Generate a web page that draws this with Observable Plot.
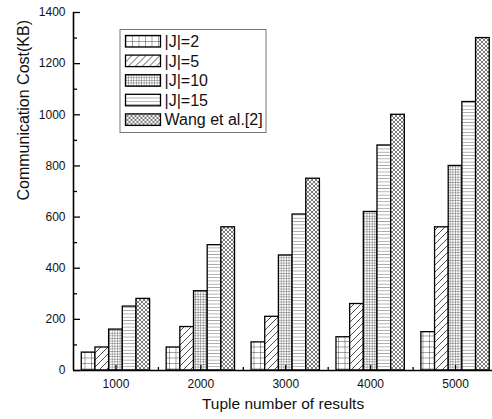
<!DOCTYPE html>
<html><head><meta charset="utf-8">
<script src="https://cdn.jsdelivr.net/npm/d3@7"></script>
<script src="https://cdn.jsdelivr.net/npm/@observablehq/plot@0.6"></script>
<style>
body{margin:0;background:#fff;font-family:Arial,"Liberation Sans",sans-serif;}
#chart{position:relative;width:492px;height:419px;overflow:hidden;background:#fff;}
#chart svg{display:block;}
#legend{position:absolute;left:0;top:0;}
</style></head><body><div id="chart"></div>
<script>
// ---- data ----
const tuples = [1000, 2000, 3000, 4000, 5000];
const seriesNames = ["|J|=2", "|J|=5", "|J|=10", "|J|=15", "Wang et al.[2]"];
const j2   = [70, 90, 110, 130, 150];
const j5   = [90, 170, 210, 260, 560];
const j10  = [160, 310, 450, 620, 800];
const j15  = [250, 490, 610, 880, 1050];
const wang = [280, 560, 750, 1000, 1300];
const yTicks = [0, 200, 400, 600, 800, 1000, 1200, 1400];
const yMinorTicks = [100, 300, 500, 700, 900, 1100, 1300];
const xTicks = [1000, 2000, 3000, 4000, 5000];
const xMinorTicks = [1500, 2500, 3500, 4500];
const xLabel = "Tuple number of results";
const yLabel = "Communication Cost(KB)";

const seriesValues = [j2, j5, j10, j15, wang];
const patternIds = ["pat-grid", "pat-diag", "pat-fine", "pat-horiz", "pat-cross"];
const barSpan = 161; // bar width in x units

const rows = seriesValues.map((vals, si) => tuples.map((t, ti) => ({tuple: t, si, value: vals[ti], name: seriesNames[si]})));

const font = "Arial, 'Liberation Sans', sans-serif";
const W = 492, H = 419, mL = 73, mR = 0, mT = 12, mB = 49;
const frameW = W - mL - mR, frameH = H - mT - mB;

const plot = Plot.plot({
  width: W,
  height: H,
  marginLeft: mL,
  marginRight: mR,
  marginTop: mT,
  marginBottom: mB,
  style: {fontFamily: font, background: "white", color: "black", overflow: "visible"},
  x: {domain: [500, 5500], range: [73, 497.5]},
  y: {domain: [0, 1400], range: [H - mB, mT]},
  marks: [
    ...rows.map((r, si) => Plot.rectY(r, {
      x1: d => d.tuple + (d.si - 2.5) * barSpan,
      x2: d => d.tuple + (d.si - 1.5) * barSpan,
      y1: 0,
      y2: "value",
      fill: `url(#${patternIds[si]})`,
      stroke: "black",
      strokeWidth: 1.3
    })),
    Plot.axisY(yTicks, {tickSize: 0, tickPadding: 8, fontSize: 12, label: null, tickFormat: d => String(d), fill: "#111"}),
    Plot.axisX(xTicks, {tickSize: 0, tickPadding: 9, fontSize: 12, label: null, tickFormat: d => String(d), fill: "#111"}),
    // inward ticks
    Plot.ruleY(yTicks, {y: d => d, insetRight: frameW - 7, stroke: "black", strokeWidth: 1.3}),
    Plot.ruleY(yMinorTicks, {y: d => d, insetRight: frameW - 4, stroke: "black", strokeWidth: 1.3}),
    Plot.ruleX(xTicks, {x: d => d, insetTop: frameH - 5, stroke: "black", strokeWidth: 1.3}),
    Plot.ruleX(xMinorTicks, {x: d => d, insetTop: frameH - 3, stroke: "black", strokeWidth: 1.3}),
    Plot.ruleX([500], {stroke: "black", strokeWidth: 1.6}),
    Plot.ruleY([0], {stroke: "black", strokeWidth: 1.6}),
    Plot.text([xLabel], {frameAnchor: "bottom", dy: 38, fontSize: 15.5, fill: "#111"}),
    Plot.text([yLabel], {frameAnchor: "left", rotate: -90, dx: -50, dy: 9, fontSize: 16, fill: "#111"})
  ]
});

// pattern definitions
const svg = d3.select(plot);
const defs = svg.insert("defs", ":first-child");
function pat(id, w, h, d, sw) {
  const p = defs.append("pattern").attr("id", id).attr("patternUnits", "userSpaceOnUse")
    .attr("width", w).attr("height", h);
  p.append("rect").attr("width", w).attr("height", h).attr("fill", "white");
  p.append("path").attr("d", d).attr("stroke", "#222").attr("stroke-width", sw).attr("fill", "none");
}
pat("pat-grid", 6.5, 5.5, "M0,0H6.5M0,0V5.5", 0.8);
pat("pat-diag", 7, 7, "M0,7L7,0M-1,1L1,-1M6,8L8,6", 0.8);
pat("pat-fine", 2.6, 2.6, "M0,0H2.6M0,0V2.6", 0.65);
pat("pat-horiz", 6, 3.3, "M0,0H6", 0.75);
pat("pat-cross", 4, 4, "M0,0L4,4M0,4L4,0M-1,1L1,-1M3,5L5,3M-1,3L1,5M3,-1L5,1", 0.6);

const chart = document.getElementById("chart");
chart.appendChild(plot);

// legend
const lg = d3.select(chart).append("svg").attr("id", "legend").attr("width", W).attr("height", H)
  .style("font-family", font);
lg.append("rect").attr("x", 120).attr("y", 29.5).attr("width", 146).attr("height", 103)
  .attr("fill", "white").attr("stroke", "#777").attr("stroke-width", 1);
const items = lg.selectAll("g.item").data(seriesNames).join("g")
  .attr("transform", (d, i) => `translate(125.5,${35.5 + i * 19.6})`);
items.append("rect").attr("width", 35).attr("height", 11.5)
  .attr("fill", (d, i) => `url(#${patternIds[i]})`).attr("stroke", "black").attr("stroke-width", 1.3);
items.append("text").attr("x", 39).attr("y", 11.5).attr("font-size", 16).attr("fill", "#111").text(d => d);
</script></body></html>
